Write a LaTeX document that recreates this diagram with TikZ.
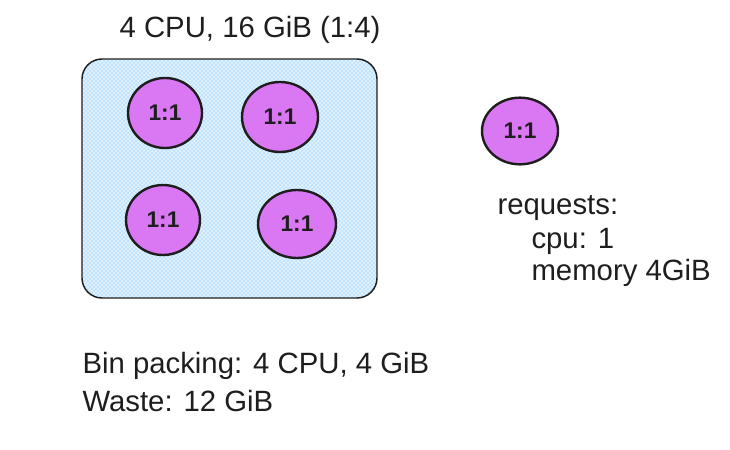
\documentclass[tikz,border=0pt]{standalone}
\usepackage{fontspec}
\setmainfont{Liberation Sans}
\usetikzlibrary{shapes.geometric,patterns}

\definecolor{boxblue}{RGB}{165,216,255}
\definecolor{podviolet}{RGB}{218,119,242}
\definecolor{inkdark}{RGB}{30,30,30}

\tikzset{every picture/.style={line width=0.75pt}}
\tikzset{
  pod/.style={ellipse, draw=inkdark, line width=1.8pt, fill=podviolet, inner sep=0pt,
    text=inkdark, font=\fontsize{17}{20}\selectfont\bfseries},
  handtext/.style={anchor=west, inner sep=0.75pt, text=inkdark, font=\fontsize{22}{26}\selectfont}
}

\begin{document}
\begin{tikzpicture}[x=0.75pt,y=0.75pt,yscale=-1,xscale=1]
\useasboundingbox (0,0) rectangle (730,449);

%Shape: Rounded Rect [id:nodebox]
\draw [draw=inkdark, line width=1.1pt, rounded corners=15pt, preaction={fill=boxblue!30},
  pattern=crosshatch, pattern color=boxblue!80] (82,59) rectangle (377,298) ;

%Shape: Ellipse [id:pod1]
\node [pod, minimum width=55.5pt, minimum height=52.5pt] (pod1) at (165,113) {1:1};
%Shape: Ellipse [id:pod2]
\node [pod, minimum width=57pt, minimum height=52.5pt] (pod2) at (280,117) {1:1};
%Shape: Ellipse [id:pod3]
\node [pod, minimum width=55.5pt, minimum height=52.5pt] (pod3) at (163,220) {1:1};
%Shape: Ellipse [id:pod4]
\node [pod, minimum width=58.5pt, minimum height=51pt] (pod4) at (297,224) {1:1};
%Shape: Ellipse [id:pod5]
\node [pod, minimum width=57pt, minimum height=50pt] (pod5) at (520,131) {1:1};

% Text Node
\node [handtext, anchor=center] (capacity) at (250,30) {4 CPU, 16 GiB (1:4)};
% Text Node
\node [handtext] (requests) at (496,208) {requests:};
% Text Node
\node [handtext] (cpu) at (530,241) {cpu: 1};
% Text Node
\node [handtext] (memory) at (530,273) {memory 4GiB};
% Text Node
\node [handtext] (binpacking) at (81,366) {Bin packing: 4 CPU, 4 GiB};
% Text Node
\node [handtext] (waste) at (81,401) {Waste: 12 GiB};

\end{tikzpicture}
\end{document}
